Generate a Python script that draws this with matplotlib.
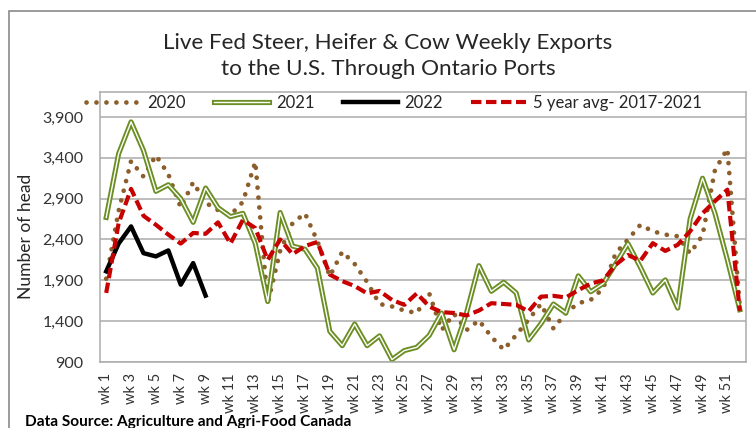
import matplotlib
matplotlib.use('Agg')
import matplotlib.pyplot as plt
import matplotlib.patheffects as pe
from matplotlib.patches import Rectangle
from matplotlib.ticker import FuncFormatter

# font close to Calibri, with fallback
plt.rcParams['font.family'] = ['Lato', 'DejaVu Sans']

# weekly exports (number of head)
weeks = list(range(1, 53))
week_labels = [f'wk {w}' for w in weeks]

exports_2020 = [1920, 2750, 3360, 3170, 3430, 3200, 2790, 3100, 2850, 2760,
                2700, 2860, 3350, 1620, 2260, 2600, 2720, 2380, 1950, 2250,
                2100, 1880, 1610, 1580, 1530, 1500, 1740, 1290, 1490, 1290,
                1410, 1210, 1050, 1230, 1420, 1610, 1310, 1500, 1620, 1660,
                1800, 2230, 2400, 2580, 2500, 2460, 2440, 2230, 2450, 3250,
                3510, 1580]

exports_2021 = [2670, 3450, 3840, 3490, 2990, 3070, 2900, 2610, 3030, 2790,
                2680, 2720, 2350, 1640, 2730, 2320, 2280, 2050, 1275, 1100,
                1365, 1100, 1220, 930, 1040, 1080, 1225, 1500, 1050, 1500,
                2080, 1766, 1876, 1746, 1170, 1370, 1610, 1500, 1955, 1760,
                1860, 2100, 2350, 2060, 1745, 1905, 1560, 2650, 3150, 2720,
                2150, 1540]

exports_2022 = [2010, 2350, 2560, 2233, 2193, 2266, 1847, 2111, 1713]

avg_5yr = [1746, 2600, 3020, 2690, 2580, 2460, 2350, 2480, 2470, 2610,
           2350, 2640, 2540, 2150, 2400, 2220, 2320, 2370, 1970, 1890,
           1830, 1740, 1770, 1660, 1600, 1740, 1580, 1510, 1500, 1470,
           1530, 1620, 1610, 1600, 1520, 1700, 1710, 1690, 1780, 1860,
           1900, 2090, 2210, 2140, 2355, 2260, 2335, 2500, 2720, 2870,
           3010, 1525]

W, H = 756, 428
fig = plt.figure(figsize=(W / 100, H / 100), dpi=100)
ax = fig.add_axes([100 / W, 1 - 362 / H, 646 / W, 270 / H])

ax.plot(weeks, exports_2020, color='#8B5E2B', lw=3.4, ls=(0, (0.01, 2.1)),
        dash_capstyle='round', label='2020')
ax.plot(weeks, exports_2021, color='white', lw=1.0, solid_joinstyle='round', label='2021',
        path_effects=[pe.Stroke(linewidth=3.7, foreground='#6B8E23'), pe.Normal()])
ax.plot(weeks[:len(exports_2022)], exports_2022, color='black', lw=3.2,
        solid_joinstyle='round', label='2022')
ax.plot(weeks, avg_5yr, color='#C80000', lw=3.0, ls=(0, (2.5, 1.1)),
        label='5 year avg- 2017-2021')

ax.set_xlim(0.5, 52.5)
ax.set_ylim(900, 4206)
ax.set_yticks(range(900, 4000, 500))
ax.yaxis.set_major_formatter(FuncFormatter(lambda v, p: f'{int(v):,}'))
ax.set_xticks(weeks[::2])
ax.set_xticklabels(week_labels[::2], rotation=90)

ax.tick_params(axis='both', length=0, colors='#333333')
ax.tick_params(axis='y', pad=12, labelsize=11.5)
ax.tick_params(axis='x', pad=8, labelsize=10.5)

ax.yaxis.grid(True, color='#ABABAB', lw=1.1)
ax.set_axisbelow(True)
for s in ax.spines.values():
    s.set_color('#ABABAB')
    s.set_linewidth(1.1)

# legend across the top of the plot area
ax.legend(loc='center', bbox_to_anchor=(394 / W, 1 - 103 / H), bbox_transform=fig.transFigure,
          ncol=4, frameon=False, fontsize=12, handlelength=3.3, handletextpad=0.4,
          columnspacing=1.7, borderpad=0, borderaxespad=0, labelcolor='#262626')

# titles and labels
fig.text(388 / W, 1 - 49 / H, 'Live Fed Steer, Heifer & Cow Weekly Exports',
         ha='center', va='baseline', fontsize=16.2, color='#262626')
fig.text(388 / W, 1 - 75 / H, 'to the U.S. Through Ontario Ports',
         ha='center', va='baseline', fontsize=16.2, color='#262626')
fig.text(26 / W, 1 - 236 / H, 'Number of head', rotation=90, ha='center', va='center',
         fontsize=12.5, color='#262626')
fig.text(25 / W, 1 - 426 / H, 'Data Source: Agriculture and Agri-Food Canada',
         ha='left', va='baseline', fontsize=11.1, fontweight='bold', color='black')

# chart area border (only left and top edges fall inside the image)
fig.patches.append(Rectangle((9 / W, -0.5), 1.2, 1.5 - 11 / H, fill=False,
                             ec='#8A8A8A', lw=1.2, transform=fig.transFigure, figure=fig))

fig.savefig('out.png', dpi=100)
